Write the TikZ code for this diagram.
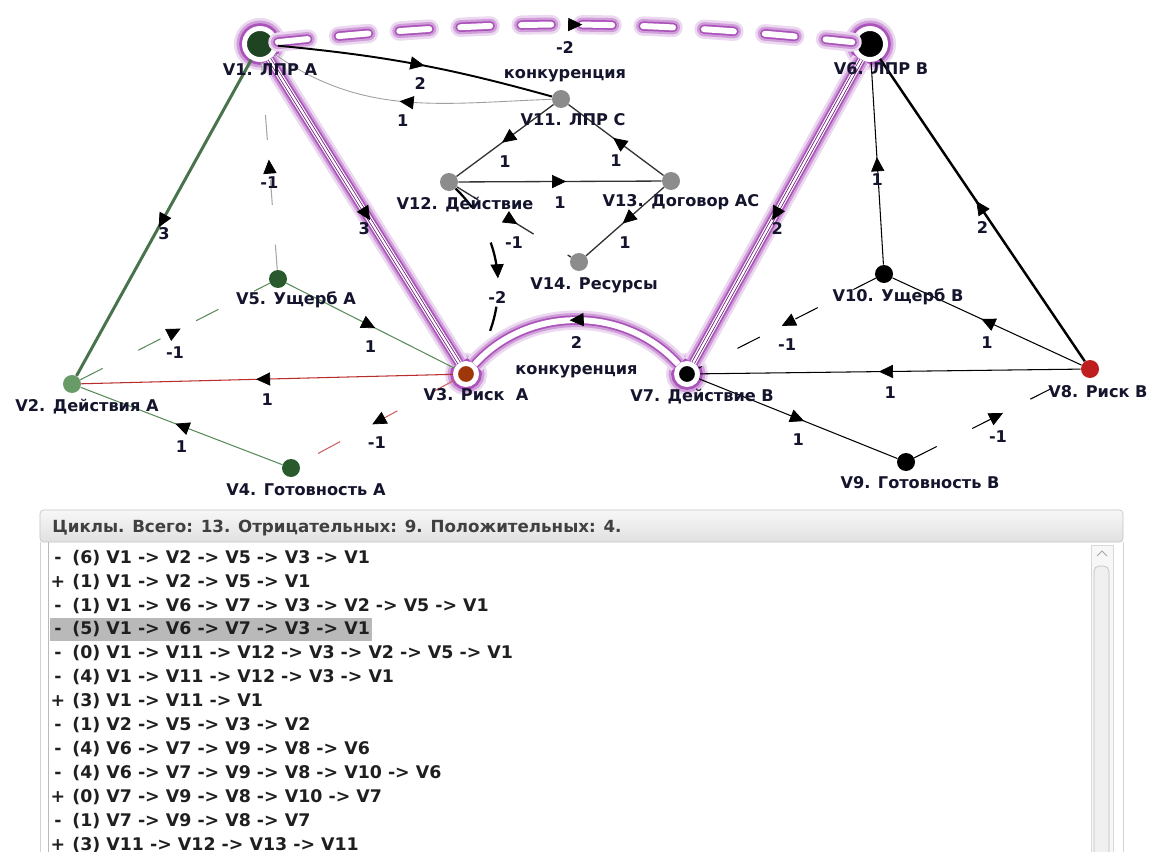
\documentclass[tikz,border=0pt]{standalone}
\usepackage{fontspec}
\setmainfont{DejaVu Sans}
\usetikzlibrary{arrows.meta,decorations.markings}

\definecolor{hl}{RGB}{150,40,170}
\definecolor{txt}{RGB}{20,20,45}
\definecolor{gdark}{RGB}{40,90,45}
\definecolor{glight}{RGB}{105,155,105}
\definecolor{gedge}{RGB}{90,140,90}
\definecolor{grnode}{RGB}{140,140,140}
\definecolor{rbrown}{RGB}{160,55,10}
\definecolor{rred}{RGB}{190,30,30}
\definecolor{redge}{RGB}{185,45,45}

\tikzset{
  vx/.style={circle,inner sep=0pt,minimum size=0.36cm,fill=#1},
  hub/.style={circle,inner sep=0pt,minimum size=#1,draw=white,line width=2.8pt,
    preaction={draw=hl!18,line width=12pt},preaction={draw=hl!45,line width=9pt},
    preaction={draw=hl!80,line width=6pt}},
  nl/.style={font=\bfseries\fontsize{9.2}{11}\selectfont,text=txt,inner sep=0pt,
    text height=6.7pt,text depth=0pt},
  wt/.style={nl,yshift=-0.42cm},
  row/.style={font=\bfseries\fontsize{9.9}{11}\selectfont,text=black!88,inner sep=0pt,
    text height=7.1pt,text depth=0pt},
  midarr/.style={postaction={decorate,decoration={markings,
    mark=at position #1 with {\arrow[black,solid]{Triangle[length=8pt,width=7.5pt,line width=0.4pt]}}}}},
  midarr/.default=0.53,
  neg/.style={dash pattern=on 0.5cm off 0.8cm},
  glowline/.style={preaction={draw=hl!18,line width=11pt,#1},preaction={draw=hl!45,line width=8pt,#1},
    preaction={draw=hl!80,line width=5.4pt,#1},draw=white,line width=3.4pt,#1},
  glowline/.default={solid},
  twin/.style={postaction={draw=hl!70!black,line width=0.45pt,double=white,double distance=1.2pt}},
}

\begin{document}
\begin{tikzpicture}[x=0.02cm,y=0.02cm]
  \useasboundingbox (0,0) rectangle (1150,-852);
  \fill[white] (0,0) rectangle (1150,-852);

  % vertices
  \node[hub=0.62cm,fill=gdark!75!black] (v1) at (260,-44) {};
  \node[hub=0.62cm,fill=black] (v6) at (870,-44) {};
  \node[hub=0.42cm,fill=rbrown] (v3) at (466,-374) {};
  \node[hub=0.42cm,fill=black] (v7) at (687,-374) {};
  \node[vx=glight] (v2) at (72,-384) {};
  \node[vx=gdark] (v4) at (291,-468) {};
  \node[vx=gdark] (v5) at (278,-279) {};
  \node[vx=rred] (v8) at (1090,-369) {};
  \node[vx=black] (v9) at (906,-462) {};
  \node[vx=black] (v10) at (884,-274) {};
  \node[vx=grnode] (v11) at (561,-99) {};
  \node[vx=grnode] (v12) at (449,-182) {};
  \node[vx=grnode] (v13) at (671,-181) {};
  \node[vx=grnode] (v14) at (579,-262) {};

  % highlighted cycle
  \draw[glowline={line cap=round,dash pattern=on 0.6cm off 0.62cm},midarr] (v1) to[bend left=6]
    node[wt,yshift=-0.04cm]{-2} node[wt,yshift=-0.54cm]{конкуренция} (v6);
  \draw[glowline,twin,midarr] (v1) -- node[wt,yshift=0.08cm]{3} (v3);
  \draw[glowline,twin,midarr] (v6) -- node[wt,yshift=0.08cm]{2} (v7);
  \draw[glowline,midarr] (v7) to[bend right=48]
    node[wt,yshift=-0.04cm]{2} node[wt,yshift=-0.56cm]{конкуренция} (v3);

  % side A
  \draw[gdark!85,line width=1.7pt,midarr] (v1) -- node[wt,yshift=0.1cm]{3} (v2);
  \draw[black,line width=1.1pt,midarr] (v1) to[bend left=5] node[wt,xshift=0.08cm,yshift=0.02cm]{2} (v11);
  \draw[gray!75,line width=0.5pt,midarr] (v11) to[out=182,in=-35] node[wt,xshift=-0.06cm,yshift=0.04cm]{1} (v1);
  \draw[gray!70,line width=0.6pt,neg,midarr] (v5) -- node[wt,yshift=0.08cm]{-1} (v1);
  \draw[gedge,line width=0.6pt,neg,midarr] (v2) -- node[wt]{-1} (v5);
  \draw[gedge,line width=0.6pt,midarr] (v5) -- node[wt]{1} (v3);
  \draw[redge,line width=0.6pt,midarr] (v3) -- node[wt]{1} (v2);
  \draw[gedge,line width=0.6pt,midarr] (v4) -- node[wt]{1} (v2);
  \draw[redge!75,line width=0.6pt,neg,midarr] (v3) -- node[wt]{-1} (v4);

  % side C
  \draw[black!80,line width=0.75pt,midarr] (v11) -- node[wt]{1} (v12);
  \draw[black!80,line width=0.75pt,midarr] (v13) -- node[wt]{1} (v11);
  \draw[black!80,line width=0.75pt,midarr] (v12) -- node[wt]{1} (v13);
  \draw[black!80,line width=0.75pt,midarr] (v13) -- node[wt]{1} (v14);
  \draw[black!80,line width=0.75pt,neg,midarr] (v12) -- node[wt]{-1} (v14);
  \draw[black,line width=1.3pt,neg,midarr] (v12) to[bend left=40] node[wt,yshift=-0.08cm]{-2} (v3);

  % side B
  \draw[black,line width=0.6pt,midarr] (v10) -- node[wt,yshift=0.1cm]{1} (v6);
  \draw[black,line width=1.4pt,midarr] (v8) -- node[wt,yshift=0.06cm]{2} (v6);
  \draw[black,line width=0.6pt,midarr] (v8) -- node[wt]{1} (v10);
  \draw[black,line width=0.6pt,midarr] (v8) -- node[wt]{1} (v7);
  \draw[black,line width=0.6pt,neg,midarr] (v10) -- node[wt]{-1} (v7);
  \draw[black,line width=0.6pt,midarr] (v7) -- node[wt]{1} (v9);
  \draw[black,line width=0.6pt,neg,midarr] (v9) -- node[wt]{-1} (v8);

  % vertex labels
  \node[nl] (l1) at (270,-70) {V1. ЛПР А};
  \node[nl] (l2) at (87,-406) {V2. Действия А};
  \node[nl] (l3) at (476,-395) {V3. Риск\ \ А};
  \node[nl] (l4) at (306,-490) {V4. Готовность А};
  \node[nl] (l5) at (296,-299) {V5. Ущерб А};
  \node[nl] (l6) at (881,-69) {V6. ЛПР В};
  \node[nl] (l7) at (702,-396) {V7. Действие В};
  \node[nl] (l8) at (1098,-392) {V8. Риск В};
  \node[nl] (l9) at (920,-483) {V9. Готовность В};
  \node[nl] (l10) at (898,-296) {V10. Ущерб В};
  \node[nl] (l11) at (573,-120) {V11. ЛПР С};
  \node[nl] (l12) at (465,-204) {V12. Действие};
  \node[nl] (l13) at (681,-201) {V13. Договор АС};
  \node[nl] (l14) at (594,-284) {V14. Ресурсы};

  % cycles panel
  \shade[top color=gray!6,bottom color=gray!24,draw=gray!45,rounded corners=2pt]
    (40,-510) rectangle (1123,-542);
  \node[row,font=\bfseries\fontsize{9.5}{11}\selectfont,text=black!75,anchor=west] (hdr) at (52,-526)
    {Циклы. Всего: 13. Отрицательных: 9. Положительных: 4.};
  \draw[gray!35] (40,-542) -- (40,-852);
  \draw[gray!55] (48,-542) -- (48,-852);
  \draw[gray!35] (1123,-542) -- (1123,-852);
  \draw[gray!30,fill=gray!6] (1091,-545) rectangle (1113,-860);
  \draw[gray!50,fill=gray!12,rounded corners=3pt] (1094,-566) rectangle (1109,-870);
  \draw[gray!70,line width=0.5pt] (1097,-556) -- (1102,-551) -- (1107,-556);
  \fill[gray!55] (50,-618) rectangle (372,-641);
  \foreach \sg/\cyc [count=\i] in {
      -/(6) V1 -> V2 -> V5 -> V3 -> V1,
      +/(1) V1 -> V2 -> V5 -> V1,
      -/(1) V1 -> V6 -> V7 -> V3 -> V2 -> V5 -> V1,
      -/(5) V1 -> V6 -> V7 -> V3 -> V1,
      -/(0) V1 -> V11 -> V12 -> V3 -> V2 -> V5 -> V1,
      -/(4) V1 -> V11 -> V12 -> V3 -> V1,
      +/(3) V1 -> V11 -> V1,
      -/(1) V2 -> V5 -> V3 -> V2,
      -/(4) V6 -> V7 -> V9 -> V8 -> V6,
      -/(4) V6 -> V7 -> V9 -> V8 -> V10 -> V6,
      +/(0) V7 -> V9 -> V8 -> V10 -> V7,
      -/(1) V7 -> V9 -> V8 -> V7,
      +/(3) V11 -> V12 -> V13 -> V11} {
    \node[row] (s\i) at (58,{-557-23.9*(\i-1)}) {\sg};
    \node[row,anchor=west] (c\i) at (72,{-557-23.9*(\i-1)}) {\cyc};
  }
\end{tikzpicture}
\end{document}
